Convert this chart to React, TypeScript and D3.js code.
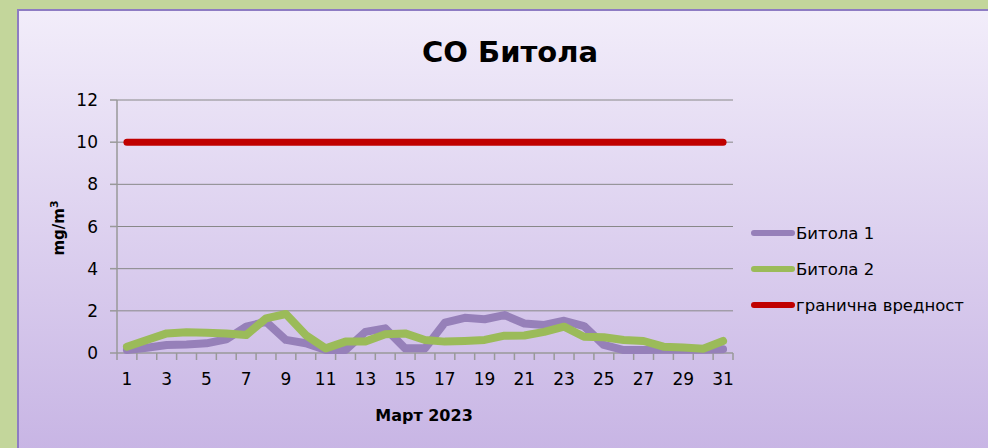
import React from "react";
import * as d3 from "d3";

const days = d3.range(1, 32);
const xTickLabels = [1, 3, 5, 7, 9, 11, 13, 15, 17, 19, 21, 23, 25, 27, 29, 31];
const yTicks = [0, 2, 4, 6, 8, 10, 12];
const bitola1 = [0.14, 0.25, 0.38, 0.4, 0.46, 0.65, 1.25, 1.48, 0.62, 0.46, 0.14, 0.14, 1.0, 1.17, 0.22, 0.22,
  1.44, 1.67, 1.6, 1.8, 1.4, 1.33, 1.53, 1.28, 0.38, 0.14, 0.14, 0.15, 0.15, 0.15, 0.18];
const bitola2 = [0.3, 0.62, 0.93, 0.98, 0.96, 0.93, 0.85, 1.64, 1.85, 0.85, 0.22, 0.54, 0.54, 0.89, 0.93, 0.62,
  0.54, 0.57, 0.62, 0.82, 0.83, 1.0, 1.25, 0.77, 0.75, 0.62, 0.57, 0.3, 0.26, 0.2, 0.57];
const limit = days.map(() => 10);
const seriesNames = ["Битола 1", "Битола 2", "гранична вредност"];
const title = "CO Битола";
const xTitle = "Март 2023";

const W = 988, H = 448;
const plot = { left: 117, right: 733, top: 100, bottom: 353 };
const font = "'DejaVu Sans', sans-serif";

export default function App() {
  const x = d3.scaleBand<number>().domain(days).range([plot.left, plot.right]);
  const cx = (d: number) => (x(d) as number) + x.bandwidth() / 2;
  const y = d3.scaleLinear().domain([0, 12]).range([plot.bottom, plot.top]);
  const line = (vals: number[]) =>
    d3.line<number>().x((_, i) => cx(days[i])).y((v) => y(v))(vals) as string;
  const series = [
    { name: seriesNames[0], vals: bitola1, color: "#9680B9", w: 8 },
    { name: seriesNames[1], vals: bitola2, color: "#9BBB59", w: 8 },
    { name: seriesNames[2], vals: limit, color: "#C00000", w: 7 },
  ];
  const boundaries = d3.range(0, 32).map((i) => plot.left + i * x.step());
  return (
    <svg width={W} height={H} style={{ position: "absolute", left: 0, top: 0 }}>
      <defs>
        <linearGradient id="bg" x1="0" y1="0" x2="0" y2="1">
          <stop offset="0%" stopColor="#F2EDFA" />
          <stop offset="100%" stopColor="#C7B4E4" />
        </linearGradient>
      </defs>
      <rect x={0} y={0} width={W} height={H} fill="#C3D69B" />
      <rect x={18} y={10} width={W} height={H} fill="url(#bg)" stroke="#8E7CC3" strokeWidth={2} />
      <text x={510} y={62} textAnchor="middle" fontFamily={font} fontWeight="bold" fontSize={29} fill="#000">{title}</text>
      {yTicks.slice(1).map((t) => (
        <line key={t} x1={plot.left} x2={plot.right} y1={y(t)} y2={y(t)} stroke="#888" strokeWidth={1} />
      ))}
      <line x1={plot.left} x2={plot.left} y1={plot.top} y2={plot.bottom} stroke="#999" strokeWidth={1.5} />
      <line x1={plot.left} x2={plot.right} y1={plot.bottom} y2={plot.bottom} stroke="#999" strokeWidth={1.5} />
      {yTicks.map((t) => (
        <g key={t}>
          <line x1={plot.left - 7} x2={plot.left} y1={y(t)} y2={y(t)} stroke="#999" strokeWidth={1.5} />
          <text x={98} y={y(t)} dy="0.36em" textAnchor="end" fontFamily={font} fontSize={17} fill="#000">{t}</text>
        </g>
      ))}
      {boundaries.map((b, i) => (
        <line key={i} x1={b} x2={b} y1={plot.bottom} y2={plot.bottom + 7} stroke="#999" strokeWidth={1.5} />
      ))}
      {xTickLabels.map((d) => (
        <text key={d} x={cx(d)} y={385} textAnchor="middle" fontFamily={font} fontSize={17} fill="#000">{d}</text>
      ))}
      <text x={424} y={421} textAnchor="middle" fontFamily={font} fontWeight="bold" fontSize={16} fill="#000">{xTitle}</text>
      <text transform="translate(64,228) rotate(-90)" textAnchor="middle" fontFamily={font} fontWeight="bold" fontSize={15} fill="#000">
        mg/m<tspan dy="-6" fontSize={11}>3</tspan>
      </text>
      {series.map((s) => (
        <path key={s.name} d={line(s.vals)} fill="none" stroke={s.color} strokeWidth={s.w} strokeLinejoin="round" strokeLinecap="round" />
      ))}
      {series.map((s, i) => (
        <g key={s.name} transform={`translate(0,${233 + i * 36})`}>
          <line x1={754} x2={792} y1={0} y2={0} stroke={s.color} strokeWidth={6} strokeLinecap="round" />
          <text x={796} y={0} dy="0.36em" fontFamily={font} fontSize={16.5} fill="#000">{s.name}</text>
        </g>
      ))}
    </svg>
  );
}
